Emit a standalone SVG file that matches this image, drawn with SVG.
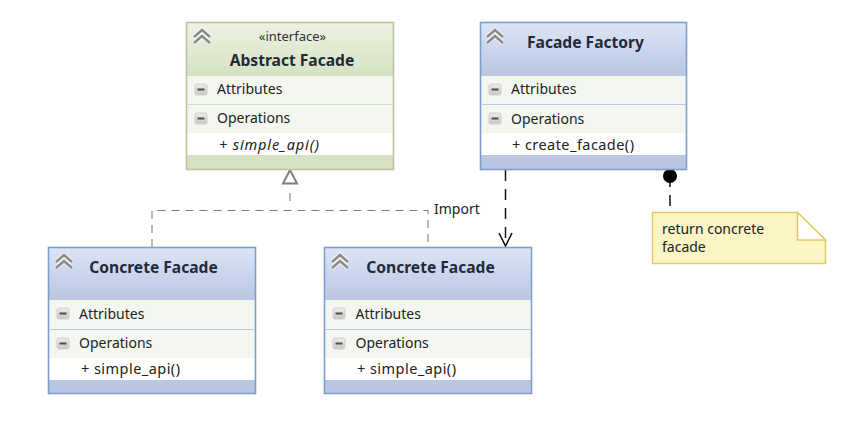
<svg xmlns="http://www.w3.org/2000/svg" width="843" height="421" viewBox="0 0 843 421">
<style>
text{font-family:"Noto Sans","DejaVu Sans",sans-serif;font-size:14px;fill:#222}
.t{font-weight:700;font-size:15.6px;fill:#1f2a3a;text-anchor:middle}
.s{font-size:13px;text-anchor:middle;fill:#333}
.m{font-size:14.5px}
.frameB{fill:url(#blue);stroke:#7f9fcb;stroke-width:1.6}
.frameG{fill:url(#green);stroke:#bfc49c;stroke-width:1.6}
.comp{fill:#f3f7f0}
.sep{stroke:#b9c8de;stroke-width:1}
.sepG{stroke:#d5dcc4;stroke-width:1}
.dash{fill:none;stroke:#808080;stroke-width:1.1;stroke-dasharray:8 6}
.dashK{fill:none;stroke:#111;stroke-width:1.5;stroke-dasharray:11 8}
.halo{fill:none;stroke:#fff;stroke-width:4.5;opacity:.75}
.chev{fill:none;stroke:#8b8b8b;stroke-width:2.6}
</style>
<defs>
<linearGradient id="blue" x1="0" y1="0" x2="0" y2="1"><stop offset="0" stop-color="#dde4f5"/><stop offset=".36" stop-color="#bac6e4"/><stop offset="1" stop-color="#bac6e4"/></linearGradient>
<linearGradient id="green" x1="0" y1="0" x2="0" y2="1"><stop offset="0" stop-color="#eef2e2"/><stop offset=".36" stop-color="#d5e2c3"/><stop offset="1" stop-color="#d5e2c3"/></linearGradient>
<linearGradient id="btn" x1="0" y1="0" x2="0" y2="1"><stop offset="0" stop-color="#ececec"/><stop offset="1" stop-color="#c8c8c8"/></linearGradient>
<g id="chevron"><path class="halo" d="M0 8 8 1 16 8M0 14 8 7 16 14"/><path class="chev" d="M0 8 8 1 16 8M0 14 8 7 16 14"/></g>
<g id="minus"><rect x="0" y="0" width="12" height="11" rx="2" fill="url(#btn)" stroke="#cfcfcf"/><rect x="2.500" y="4.500" width="7" height="2" fill="#4d4d4d"/></g>
</defs>

<g id="connectors">
<path class="dash" d="M290 193V203"/>
<path class="dash" d="M152 247V210.500H428V247"/>
<path d="M290 170 283 183.500H297Z" fill="#fff" stroke="#7f7f7f" stroke-width="2"/>
<path class="dashK" d="M505.500 170V246"/>
<path d="M499 233 505.500 246 512 233" fill="none" stroke="#111" stroke-width="1.6"/>
<path class="dashK" d="M670 176V212"/>
<circle cx="670" cy="176" r="7" fill="#000"/>
<text x="434" y="214">Import</text>
</g>

<g id="abstract-facade">
<rect class="frameG" x="186.500" y="22.500" width="207" height="147"/>
<rect class="comp" x="187.500" y="76" width="205" height="57"/>
<rect x="187.500" y="133" width="205" height="22" fill="#fff"/>
<path class="sepG" d="M187.500 104.500H392.500"/>
<use href="#chevron" x="194" y="29"/>
<text class="s" x="292.500" y="41">«interface»</text>
<text class="t" x="292" y="66">Abstract Facade</text>
<use href="#minus" x="195" y="84"/>
<text x="217" y="94">Attributes</text>
<use href="#minus" x="195" y="113"/>
<text x="217" y="123">Operations</text>
<text class="m" x="219" y="150" font-style="italic" textLength="100" lengthAdjust="spacing">+ simple_api()</text>
</g>

<g id="facade-factory">
<rect class="frameB" x="480.500" y="22.500" width="206" height="147"/>
<rect class="comp" x="481.500" y="76" width="204" height="57"/>
<rect x="481.500" y="133" width="204" height="22" fill="#fff"/>
<path class="sep" d="M481.500 104.500H685.500"/>
<use href="#chevron" x="487" y="29"/>
<text class="t" x="585.500" y="48">Facade Factory</text>
<use href="#minus" x="489" y="84"/>
<text x="511" y="94">Attributes</text>
<use href="#minus" x="489" y="113"/>
<text x="511" y="124">Operations</text>
<text class="m" x="512" y="150" textLength="122" lengthAdjust="spacing">+ create_facade()</text>
</g>

<g id="concrete-facade-1">
<rect class="frameB" x="48.500" y="247.500" width="207" height="146"/>
<rect class="comp" x="49.500" y="300" width="205" height="58"/>
<rect x="49.500" y="358" width="205" height="22" fill="#fff"/>
<path class="sep" d="M49.500 329.500H254.500"/>
<use href="#chevron" x="56" y="254"/>
<text class="t" x="153.500" y="272.500">Concrete Facade</text>
<use href="#minus" x="57" y="308"/>
<text x="79" y="319">Attributes</text>
<use href="#minus" x="57" y="338"/>
<text x="79" y="348">Operations</text>
<text class="m" x="81" y="374" textLength="99" lengthAdjust="spacing">+ simple_api()</text>
</g>

<g id="concrete-facade-2">
<rect class="frameB" x="324.500" y="247.500" width="207" height="146"/>
<rect class="comp" x="325.500" y="300" width="205" height="58"/>
<rect x="325.500" y="358" width="205" height="22" fill="#fff"/>
<path class="sep" d="M325.500 329.500H530.500"/>
<use href="#chevron" x="332" y="254"/>
<text class="t" x="430.500" y="272.500">Concrete Facade</text>
<use href="#minus" x="333" y="308"/>
<text x="355.500" y="319">Attributes</text>
<use href="#minus" x="333" y="338"/>
<text x="355.500" y="348">Operations</text>
<text class="m" x="357" y="374" textLength="99" lengthAdjust="spacing">+ simple_api()</text>
</g>

<g id="note">
<path d="M652.500 212.500H797.500L825.500 240V263.500H652.500Z" fill="#fbf4c4" stroke="#e0cb6a" stroke-width="1.500"/>
<path d="M797.500 212.500V240H825.500Z" fill="#fff" stroke="#e0cb6a" stroke-width="1.500"/>
<text x="662" y="234">return concrete</text>
<text x="662" y="252">facade</text>
</g>
</svg>
